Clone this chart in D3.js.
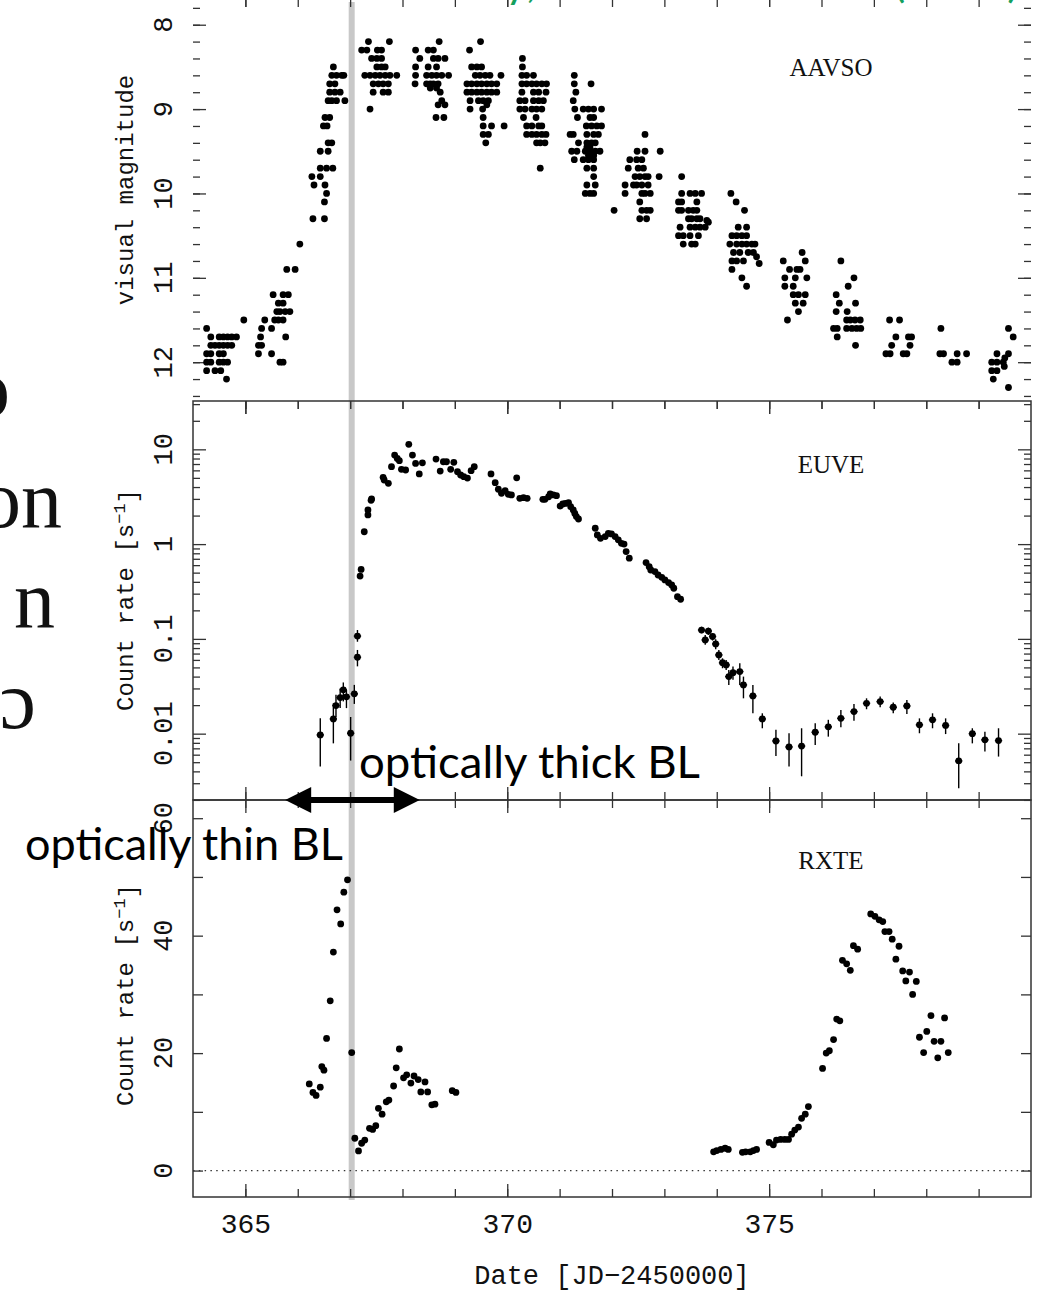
<!DOCTYPE html>
<html lang="en">
<head>
<meta charset="utf-8">
<script src="https://d3js.org/d3.v7.min.js"></script>
<title>SS Cyg outburst: AAVSO, EUVE and RXTE light curves</title>
<style>
  body { margin: 0; background: #fff; }
  svg { display: block; }
  .mono { font-family: "Liberation Mono", "DejaVu Sans Mono", monospace; fill: #111; }
  .roman { font-family: "Liberation Serif", "DejaVu Serif", serif; fill: #111; }
  .slide { font-family: Lato, "Open Sans", sans-serif; }
</style>
</head>
<body>
<div id="chart"></div>
<script>
// ---- data ----
const dayDomain = [364, 380];
const dayMajorTicks = [365, 370, 375];
const magMajorTicks = [8, 9, 10, 11, 12];
const euveMajorTicks = [0.01, 0.1, 1, 10];
const euveTickLabels = ["0.01", "0.1", "1", "10"];
const rxteTicks = [0, 10, 20, 30, 40, 50, 60];
const rxteTickLabels = [0, 20, 40, 60];
const outburstDay = 367.03;      // grey vertical line
const arrowDays = [365.76, 368.33];

// AAVSO visual estimates [day, mag]
const aavso = [
  [364.26,11.6],[364.34,11.7],[364.50,11.7],[364.58,11.7],[364.66,11.7],[364.74,11.7],[364.83,11.7],
  [364.34,11.8],[364.42,11.8],[364.50,11.8],[364.58,11.8],[364.66,11.8],[364.74,11.8],
  [364.26,11.9],[364.34,11.9],[364.50,11.9],[364.58,11.9],
  [364.26,12.0],[364.34,12.0],[364.50,12.0],[364.58,12.0],[364.66,12.0],
  [364.26,12.1],[364.42,12.1],[364.53,12.1],[364.64,12.2],[364.97,11.5],
  [365.25,11.9],[365.25,11.8],[365.31,11.8],[365.29,11.7],[365.31,11.6],[365.37,11.5],
  [365.50,11.6],[365.50,11.9],[365.53,11.2],[365.56,11.5],[365.63,11.5],[365.72,11.5],
  [365.60,11.4],[365.66,11.4],[365.76,11.4],[365.85,11.4],[365.63,11.3],[365.72,11.3],
  [365.72,11.2],[365.82,11.2],[365.66,12.0],[365.72,12.0],[365.77,11.7],
  [365.79,10.9],[365.95,10.9],[366.04,10.6],
  [366.29,10.3],[366.51,10.3],[366.51,10.1],[366.27,9.8],[366.43,9.8],[366.31,9.9],[366.52,9.9],
  [366.55,10.0],[366.43,9.7],[366.55,9.7],[366.67,9.7],[366.43,9.5],[366.58,9.5],
  [366.58,9.4],[366.65,9.4],[366.49,9.2],[366.56,9.2],[366.52,9.1],[366.61,9.1],
  [366.58,8.9],[366.65,8.9],[366.74,8.9],[366.90,8.9],[366.61,8.8],[366.71,8.8],[366.81,8.8],
  [366.61,8.7],[366.71,8.7],[366.65,8.6],[366.74,8.6],[366.84,8.6],[366.88,8.6],[366.68,8.5],
  [367.35,8.2],[367.75,8.2],[367.22,8.3],[367.32,8.3],[367.52,8.3],[367.60,8.3],
  [367.41,8.4],[367.51,8.4],[367.60,8.4],[367.51,8.5],[367.60,8.5],[367.67,8.5],
  [367.28,8.6],[367.38,8.6],[367.48,8.6],[367.57,8.6],[367.67,8.6],[367.76,8.6],[367.89,8.6],
  [367.44,8.7],[367.54,8.7],[367.63,8.7],[367.73,8.7],[367.44,8.8],[367.63,8.8],[367.73,8.8],
  [367.38,9.0],
  [368.70,8.2],[368.25,8.3],[368.49,8.3],[368.59,8.3],[368.33,8.4],[368.59,8.4],[368.68,8.4],[368.81,8.4],
  [368.25,8.5],[368.49,8.5],[368.65,8.5],
  [368.25,8.6],[368.46,8.6],[368.56,8.6],[368.65,8.6],[368.75,8.6],[368.88,8.6],
  [368.24,8.7],[368.46,8.7],[368.53,8.7],[368.59,8.7],[368.68,8.7],
  [368.53,8.75],[368.65,8.75],[368.72,8.8],[368.68,8.95],[368.81,8.95],[368.64,9.1],[368.79,9.1],[368.75,8.9],
  [369.49,8.2],[369.28,8.3],[369.32,8.5],[369.42,8.5],[369.51,8.5],
  [369.39,8.6],[369.48,8.6],[369.58,8.6],[369.67,8.6],[369.88,8.6],
  [369.23,8.7],[369.32,8.7],[369.42,8.7],[369.51,8.7],[369.61,8.7],[369.70,8.7],[369.80,8.7],
  [369.23,8.8],[369.32,8.8],[369.42,8.8],[369.51,8.8],[369.61,8.8],[369.70,8.8],[369.80,8.8],
  [369.29,8.9],[369.45,8.9],[369.54,8.9],[369.64,8.9],[369.29,9.0],[369.53,9.0],[369.61,8.95],
  [369.54,9.1],[369.54,9.2],[369.70,9.2],[369.94,9.2],[369.54,9.3],[369.64,9.3],[369.59,9.4],
  [370.29,8.4],[370.29,8.5],[370.28,8.6],[370.37,8.6],[370.50,8.6],
  [370.28,8.7],[370.37,8.7],[370.47,8.7],[370.56,8.7],[370.66,8.7],[370.75,8.7],
  [370.28,8.8],[370.50,8.8],[370.60,8.8],[370.74,8.8],
  [370.24,8.9],[370.34,8.9],[370.50,8.9],[370.60,8.9],[370.69,8.9],
  [370.24,9.0],[370.34,9.0],[370.47,9.0],[370.56,9.0],[370.66,9.0],[370.31,9.1],[370.55,9.1],
  [370.37,9.2],[370.47,9.2],[370.60,9.2],[370.66,9.2],
  [370.37,9.3],[370.47,9.3],[370.56,9.3],[370.66,9.3],[370.74,9.3],
  [370.56,9.4],[370.63,9.4],[370.72,9.4],[370.63,9.7],
  [371.28,8.6],[371.28,8.7],[371.60,8.7],[371.31,8.8],[371.26,8.9],
  [371.29,9.0],[371.45,9.0],[371.55,9.0],[371.65,9.0],[371.80,9.0],
  [371.34,9.1],[371.58,9.1],[371.65,9.1],[371.51,9.2],[371.61,9.2],[371.71,9.2],[371.80,9.2],
  [371.20,9.3],[371.26,9.3],[371.52,9.3],[371.65,9.3],[371.74,9.3],
  [371.36,9.4],[371.52,9.4],[371.61,9.4],[371.68,9.4],
  [371.23,9.5],[371.33,9.5],[371.49,9.5],[371.58,9.5],[371.68,9.5],[371.77,9.5],
  [371.52,9.45],[371.58,9.45],[371.55,9.55],[371.65,9.55],
  [371.28,9.6],[371.45,9.6],[371.55,9.6],[371.65,9.6],[371.52,9.7],[371.65,9.7],[371.65,9.8],
  [371.52,9.9],[371.68,9.9],[371.49,10.0],[371.58,10.0],[371.65,10.0],
  [372.04,10.2],
  [372.63,9.3],[372.48,9.5],[372.63,9.5],[372.92,9.5],[372.34,9.6],[372.47,9.6],[372.57,9.6],
  [372.31,9.7],[372.50,9.7],[372.60,9.7],
  [372.44,9.8],[372.53,9.8],[372.63,9.8],[372.69,9.8],[372.90,9.8],
  [372.25,9.9],[372.41,9.9],[372.47,9.9],[372.57,9.9],[372.69,9.9],
  [372.25,10.0],[372.57,10.0],[372.63,10.0],[372.73,10.0],[372.53,10.1],
  [372.57,10.2],[372.66,10.2],[372.73,10.2],[372.53,10.3],[372.66,10.3],
  [373.33,9.8],[373.33,10.0],[373.49,10.0],[373.59,10.0],[373.71,10.0],
  [373.27,10.1],[373.33,10.1],[373.62,10.1],
  [373.27,10.2],[373.33,10.2],[373.46,10.2],[373.55,10.2],[373.62,10.2],
  [373.46,10.3],[373.52,10.3],[373.62,10.3],[373.68,10.3],[373.81,10.32],[373.84,10.34],
  [373.30,10.4],[373.49,10.4],[373.59,10.4],[373.68,10.4],[373.78,10.4],
  [373.27,10.5],[373.36,10.5],[373.49,10.5],[373.65,10.5],[373.36,10.6],[373.52,10.6],[373.59,10.6],
  [374.27,10.0],[374.37,10.1],[374.53,10.2],[374.41,10.4],[374.57,10.4],
  [374.29,10.5],[374.38,10.5],[374.48,10.5],[374.57,10.5],
  [374.25,10.6],[374.38,10.6],[374.48,10.6],[374.57,10.6],[374.67,10.6],[374.73,10.6],
  [374.32,10.7],[374.44,10.7],[374.60,10.7],[374.70,10.7],[374.76,10.75],[374.81,10.83],
  [374.29,10.8],[374.38,10.8],[374.51,10.8],[374.29,10.9],[374.48,11.0],[374.57,11.1],
  [375.63,10.7],[375.27,10.8],[375.69,10.8],[375.39,10.9],[375.53,10.9],[375.59,10.9],
  [375.30,11.0],[375.50,11.0],[375.72,11.0],[375.30,11.1],[375.46,11.1],
  [375.46,11.2],[375.56,11.2],[375.69,11.2],[375.50,11.3],[375.65,11.3],[375.56,11.4],[375.35,11.5],
  [376.37,10.8],[376.62,11.0],[376.51,11.1],[376.28,11.2],[376.34,11.3],[376.65,11.3],
  [376.28,11.4],[376.49,11.4],[376.48,11.5],[376.55,11.5],[376.64,11.5],[376.74,11.5],
  [376.23,11.6],[376.30,11.6],[376.48,11.6],[376.58,11.6],[376.67,11.6],[376.75,11.6],
  [376.30,11.7],[376.65,11.8],
  [377.30,11.5],[377.49,11.5],[377.42,11.7],[377.66,11.7],[377.72,11.7],[377.34,11.8],[377.69,11.8],
  [377.23,11.9],[377.31,11.9],[377.56,11.9],[377.63,11.9],
  [378.28,11.6],[378.26,11.9],[378.33,11.9],[378.49,12.0],[378.59,12.0],[378.59,11.9],[378.77,11.9],
  [379.57,11.6],[379.66,11.7],[379.35,11.9],[379.57,11.9],[379.50,11.95],
  [379.25,12.0],[379.35,12.0],[379.47,12.0],[379.25,12.1],[379.35,12.1],[379.49,12.05],
  [379.28,12.2],[379.57,12.3]
];

// EUVE count rate [day, rate, errLow, errHigh] (no error bar where it hides under the dot)
const euve = [
  [366.43,0.0097,0.0045,0.0145],[366.68,0.0143,0.0079,0.0209],[366.73,0.0198,0.015,0.0257],
  [366.81,0.024,0.0186,0.030],[366.87,0.029,0.0219,0.0347],[366.93,0.0245,0.0186,0.029],
  [367.01,0.0101,0.0052,0.015],[367.08,0.0263,0.0206,0.0327],
  [367.14,0.107,0.0933,0.124],[367.14,0.064,0.0513,0.0764],
  [367.19,0.46],[367.21,0.54],[367.27,1.35],[367.34,2.03],[367.34,2.29],[367.40,2.9],[367.41,3.0],
  [367.63,5.07],[367.65,4.75],[367.73,4.38],[367.79,6.56],[367.85,8.7],[367.90,8.0],[367.94,7.6],
  [367.98,6.15],[368.06,6.05],[368.12,11.3],[368.19,8.7],[368.25,7.1],[368.32,5.5],[368.38,7.2],
  [368.64,7.9],[368.72,5.9],[368.78,7.4],[368.84,7.4],[368.92,6.15],[368.98,7.3],[369.05,5.8],
  [369.11,5.36],[369.17,5.15],[369.24,4.98],[369.31,5.96],[369.37,6.56],
  [369.69,5.5],[369.77,4.45],[369.83,3.79],[369.89,3.44],[369.96,3.66],[370.02,3.35],[370.08,3.3],
  [370.18,5.0],[370.24,3.04],[370.31,3.09],[370.38,3.04],
  [370.68,2.97],[370.72,2.97],[370.79,3.16],[370.82,3.38],[370.88,3.3],[370.94,3.24],
  [371.01,2.52],[371.06,2.65],[371.11,2.69],[371.17,2.74],
  [371.21,2.48],[371.26,2.29],[371.29,2.11],[371.32,1.95],[371.36,1.84],
  [371.68,1.47],[371.72,1.25],[371.78,1.15],
  [371.87,1.2],[371.93,1.30],[371.99,1.28],[372.06,1.2],[372.12,1.11],[372.18,1.02],[372.23,1.0],
  [372.27,0.834],[372.33,0.71],
  [372.65,0.638],[372.71,0.578],[372.74,0.533],[372.82,0.513],[372.88,0.472],[372.95,0.446],
  [373.01,0.419],[373.08,0.393],[373.14,0.371],[373.18,0.342],[373.25,0.279],[373.31,0.262],
  [373.71,0.124,0.1146,0.1345],[373.78,0.0975,0.0865,0.110],[373.84,0.121,0.110,0.1315],
  [373.92,0.106,0.096,0.1146],[373.98,0.0885,0.0776,0.099],[374.04,0.0677,0.060,0.0764],
  [374.11,0.056,0.049,0.0624],[374.18,0.0531,0.047,0.060],[374.23,0.040,0.0327,0.047],
  [374.31,0.044,0.037,0.051],[374.44,0.0452,0.0327,0.0553],[374.51,0.0327,0.0236,0.040],
  [374.69,0.025,0.0164,0.0327],[374.87,0.0143,0.0114,0.0164],
  [375.13,0.00837,0.00582,0.011],[375.38,0.00724,0.0045,0.0101],[375.62,0.0074,0.00355,0.0114],
  [375.88,0.01035,0.0076,0.0129],[376.13,0.0118,0.0093,0.014],[376.37,0.0145,0.0117,0.0178],
  [376.62,0.0171,0.0137,0.0206],[376.86,0.0209,0.0181,0.0236],[377.12,0.0218,0.019,0.0246],
  [377.37,0.019,0.0164,0.0213],[377.63,0.0196,0.0161,0.0227],[377.87,0.0124,0.0101,0.0145],
  [378.12,0.014,0.0114,0.0164],[378.37,0.0122,0.0099,0.0145],[378.62,0.00515,0.00265,0.0079],
  [378.88,0.0100,0.0079,0.0114],[379.12,0.0086,0.0065,0.0105],[379.38,0.00846,0.00573,0.0114]
];

// RXTE count rate [day, rate]
const rxte = [
  [366.22,14.75],[366.29,13.3],[366.35,12.8],[366.43,14.2],[366.46,17.7],[366.50,17.1],
  [366.55,22.5],[366.62,28.9],[366.68,37.2],[366.75,44.4],[366.82,42.0],[366.88,47.4],[366.95,49.5],
  [367.03,20.1],[367.09,5.5],[367.16,3.35],[367.22,4.65],[367.28,5.2],
  [367.37,7.2],[367.43,7.0],[367.49,7.65],[367.54,10.6],[367.61,9.6],[367.69,11.7],[367.74,12.0],
  [367.83,14.4],[367.88,17.5],[367.94,20.7],[368.02,15.8],[368.08,16.3],[368.16,14.9],
  [368.22,16.1],[368.30,15.5],[368.35,13.4],[368.43,15.1],[368.48,13.4],[368.56,11.2],[368.62,11.3],
  [368.95,13.6],[369.02,13.3],
  [373.94,3.2],[374.00,3.4],[374.08,3.6],[374.16,3.8],[374.22,3.6],
  [374.49,3.1],[374.55,3.2],[374.64,3.2],[374.70,3.4],[374.76,3.6],
  [375.00,4.8],[375.08,4.4],[375.14,5.2],[375.22,5.3],[375.30,5.3],[375.37,5.3],
  [375.43,6.2],[375.49,6.9],[375.56,7.4],[375.62,8.9],[375.69,9.6],[375.75,10.9],
  [376.02,17.4],[376.09,20.0],[376.15,20.4],[376.23,22.3],[376.29,25.8],[376.35,25.5],
  [376.40,35.8],[376.48,35.2],[376.55,34.1],[376.61,38.3],[376.69,37.7],
  [376.94,43.7],[377.02,43.3],[377.10,42.7],[377.17,42.4],[377.21,40.7],[377.29,40.7],
  [377.35,39.4],[377.42,36.0],[377.48,38.2],[377.55,34.0],[377.68,33.8],[377.61,32.3],[377.81,32.2],
  [377.74,30.0],[377.87,22.7],[377.95,20.1],[378.01,23.7],[378.09,26.4],[378.15,22.0],
  [378.22,19.2],[378.28,22.0],[378.35,26.0],[378.42,20.1]
];

// ---- drawing ----
const W = 1039, H = 1292;
const L = 193, R = 1031;
const svg = d3.select("#chart").append("svg").attr("width", W).attr("height", H);

const x = d3.scaleLinear().domain(dayDomain).range([L, R]);
const yMag = d3.scaleLinear().domain([7.79, 12.46]).range([7, 401]);
const yEuve = d3.scaleLog().domain([Math.pow(10, -2.70), Math.pow(10, 1.51)]).range([800, 401]);
const yRxte = d3.scaleLinear().domain([-4.5, 63.1]).range([1197, 800]);

const panels = [
  {y: yMag, name: "AAVSO", nameY: 76},
  {y: yEuve, name: "EUVE", nameY: 473},
  {y: yRxte, name: "RXTE", nameY: 869}
];

// grey line marking the transition
svg.append("line")
  .attr("x1", x(outburstDay)).attr("x2", x(outburstDay))
  .attr("y1", 2).attr("y2", 1200)
  .attr("stroke", "#c8c8c8").attr("stroke-width", 6);

function tickGroup(axis, tx, ty) {
  const g = svg.append("g").attr("transform", `translate(${tx},${ty})`).call(axis);
  g.select(".domain").remove();
  g.selectAll("line").attr("stroke", "#333").attr("stroke-width", 1.3);
  return g;
}

const dayMinor = d3.range(dayDomain[0] + 1, dayDomain[1]);
const magMinor = d3.range(7.8, 12.41, 0.2).map(v => +v.toFixed(1));
const euveMinor = [];
[0.001, 0.01, 0.1, 1, 10].forEach(dec => {
  for (let k = 2; k <= 9; k++) euveMinor.push(k * dec);
});
const euveMinorIn = euveMinor.filter(v => v >= yEuve.domain()[0] && v <= yEuve.domain()[1]);

const yTickSets = [
  {minor: magMinor, major: magMajorTicks},
  {minor: euveMinorIn, major: euveMajorTicks},
  {minor: rxteTicks, major: []}
];

panels.forEach((p, i) => {
  const [bottom, top] = p.y.range();
  // frame
  svg.append("rect")
    .attr("x", L).attr("y", top).attr("width", R - L).attr("height", bottom - top)
    .attr("fill", "none").attr("stroke", "#333").attr("stroke-width", 1.5);
  // x ticks, inside, top and bottom
  [[d3.axisTop, top], [d3.axisBottom, bottom]].forEach(([ax, yy]) => {
    tickGroup(ax(x).tickValues(dayMinor).tickSize(-8).tickFormat(""), 0, yy);
    tickGroup(ax(x).tickValues(dayMajorTicks).tickSize(-13).tickFormat(""), 0, yy);
  });
  // y ticks, inside, left and right
  const ts = yTickSets[i];
  [[d3.axisLeft, L], [d3.axisRight, R]].forEach(([ax, xx]) => {
    tickGroup(ax(p.y).tickValues(ts.minor).tickSize(i === 2 ? -10 : -7).tickFormat(""), xx, 0);
    if (ts.major.length)
      tickGroup(ax(p.y).tickValues(ts.major).tickSize(-13).tickFormat(""), xx, 0);
  });
  // instrument label
  svg.append("text").attr("class", "roman")
    .attr("x", 831).attr("y", p.nameY)
    .attr("text-anchor", "middle").attr("font-size", 25)
    .text(p.name);
});

// rotated y tick labels
function yLabels(scale, values, labels) {
  svg.append("g").selectAll("text")
    .data(values).join("text")
    .attr("class", "mono").attr("font-size", 27)
    .attr("text-anchor", "middle")
    .attr("transform", d => `translate(172,${scale(d)}) rotate(-90)`)
    .text((d, i) => labels ? labels[i] : d);
}
yLabels(yMag, magMajorTicks);
yLabels(yEuve, euveMajorTicks, euveTickLabels);
yLabels(yRxte, rxteTickLabels);

// x tick labels on the bottom panel
const xl = tickGroup(d3.axisBottom(x).tickValues(dayMajorTicks).tickSize(0).tickPadding(16), 0, 1197);
xl.selectAll("text").attr("class", "mono").attr("font-size", 28).attr("font-family", null);

// axis titles
function yTitle(cy, parts) {
  const t = svg.append("text").attr("class", "mono").attr("font-size", 24)
    .attr("text-anchor", "middle")
    .attr("transform", `translate(133,${cy}) rotate(-90)`);
  t.append("tspan").text(parts[0]);
  if (parts.length > 1) {
    t.append("tspan").attr("dy", "-0.45em").attr("font-size", 17).text(parts[1]);
    t.append("tspan").attr("dy", "0.45em").text(parts[2]);
  }
}
yTitle(190, ["visual magnitude"]);
yTitle(600, ["Count rate [s", "\u22121", "]"]);
yTitle(995, ["Count rate [s", "\u22121", "]"]);

svg.append("text").attr("class", "mono").attr("font-size", 27)
  .attr("x", (L + R) / 2).attr("y", 1284).attr("text-anchor", "middle")
  .text("Date [JD\u22122450000]");

// RXTE zero level
svg.append("line")
  .attr("x1", L).attr("x2", R).attr("y1", yRxte(0)).attr("y2", yRxte(0))
  .attr("stroke", "#333").attr("stroke-width", 1.2).attr("stroke-dasharray", "1.5,4.3");

// data
const R_DOT = 3.4;
svg.append("g").selectAll("circle").data(aavso).join("circle")
  .attr("cx", d => x(d[0])).attr("cy", d => yMag(d[1])).attr("r", R_DOT).attr("fill", "#000");

const withErr = euve.filter(d => d.length > 2);
svg.append("g").selectAll("line.ey").data(withErr).join("line")
  .attr("x1", d => x(d[0])).attr("x2", d => x(d[0]))
  .attr("y1", d => yEuve(d[2])).attr("y2", d => yEuve(d[3]))
  .attr("stroke", "#000").attr("stroke-width", 1.4);
svg.append("g").selectAll("line.ex").data(withErr).join("line")
  .attr("x1", d => x(d[0] - 0.07)).attr("x2", d => x(d[0] + 0.07))
  .attr("y1", d => yEuve(d[1])).attr("y2", d => yEuve(d[1]))
  .attr("stroke", "#000").attr("stroke-width", 1.4);
svg.append("g").selectAll("circle").data(euve).join("circle")
  .attr("cx", d => x(d[0])).attr("cy", d => yEuve(d[1])).attr("r", R_DOT).attr("fill", "#000");

svg.append("g").selectAll("circle").data(rxte).join("circle")
  .attr("cx", d => x(d[0])).attr("cy", d => yRxte(d[1])).attr("r", R_DOT).attr("fill", "#000");

// ---- slide overlay ----
const ay = 800;
const ax0 = x(arrowDays[0]), ax1 = x(arrowDays[1]);
svg.append("line").attr("x1", ax0 + 20).attr("x2", ax1 - 20).attr("y1", ay).attr("y2", ay)
  .attr("stroke", "#000").attr("stroke-width", 6);
svg.append("path")
  .attr("d", `M${ax0},${ay} L${ax0 + 26},${ay - 13} L${ax0 + 26},${ay + 13} Z
              M${ax1},${ay} L${ax1 - 26},${ay - 13} L${ax1 - 26},${ay + 13} Z`)
  .attr("fill", "#000");

svg.append("text").attr("class", "slide")
  .attr("x", 359).attr("y", 778).attr("font-size", 44)
  .attr("textLength", 341).attr("lengthAdjust", "spacingAndGlyphs")
  .text("optically thick BL");
svg.append("text").attr("class", "slide")
  .attr("x", 25).attr("y", 860).attr("font-size", 44)
  .attr("textLength", 318).attr("lengthAdjust", "spacingAndGlyphs")
  .text("optically thin BL");

// title running off the top (only descenders show)
svg.append("text").attr("class", "slide")
  .attr("x", 1019).attr("y", -3).attr("font-size", 44)
  .attr("text-anchor", "end").attr("fill", "#14a05e")
  .text("Wheatley, Mauche & Mattei (2003)");

// large slide text cut off at the left edge
const sideLines = [["o", 10, 416], ["on", 62, 527], ["n", 55, 627], ["\u0254", 36, 728]];
svg.append("g").selectAll("text").data(sideLines).join("text")
  .attr("class", "roman").attr("font-size", 82)
  .attr("text-anchor", "end")
  .attr("x", d => d[1]).attr("y", d => d[2])
  .text(d => d[0]);
</script>
</body>
</html>
